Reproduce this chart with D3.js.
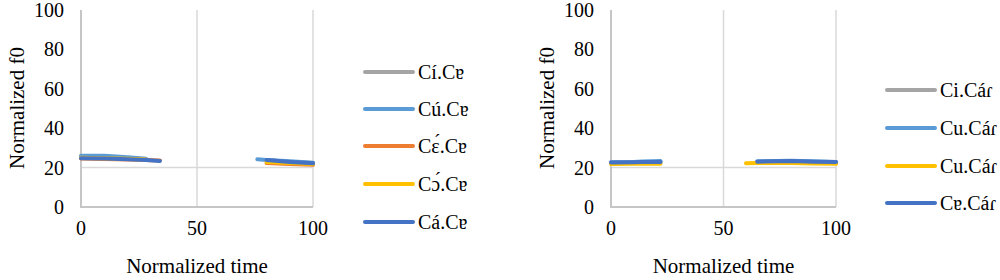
<!DOCTYPE html>
<html>
<head>
<meta charset="utf-8">
<script src="https://d3js.org/d3.v7.min.js"></script>
<style>
  body { margin: 0; background: #fff; }
</style>
</head>
<body>
<script>
// left panel: vowel + Cɐ
const timeA = [0, 10, 20, 28, 34, 55, 76, 80, 90, 100];
const namesA = ["Cí.Cɐ", "Cú.Cɐ", "Cɛ́.Cɐ", "Cɔ́.Cɐ", "Cá.Cɐ"];
const grayA   = [25.3, 25.3, 24.8, 24.3, null, null, null, 23.8, 22.8, 22.3];
const lblueA  = [26.0, 26.0, 25.2, 24.5, null, null, 24.2, 23.9, 23.2, 22.5];
const orangeA = [24.6, 24.4, 24.1, 23.9, 23.6, null, null, 22.3, 21.8, 21.4];
const yellowA = [25.0, 24.8, 24.5, 24.1, null, null, null, 22.8, 22.3, 21.8];
const dblueA  = [24.8, 24.6, 24.3, 23.8, 23.4, null, null, 23.8, 22.9, 22.2];

// right panel: vowel + Cáɾ
const timeB = [0, 10, 14, 22, 40, 60, 65, 80, 90, 100];
const namesB = ["Ci.Cáɾ", "Cu.Cáɾ", "Cu.Cáɾ", "Cɐ.Cáɾ"];
const grayB   = [22.5, 22.6, 22.7, 22.8, null, null, 23.0, 23.1, 22.9, 22.6];
const lblueB  = [22.7, 22.8, 23.1, 23.3, null, null, 23.2, 23.5, 23.2, 22.9];
const yellowB = [21.8, 21.9, 22.0, 22.0, null, 22.2, 22.3, 22.3, 22.1, 21.9];
const dblueB  = [22.6, 22.7, 22.8, 22.9, null, null, 23.0, 23.3, 23.0, 22.8];

const yTicks = [0, 20, 40, 60, 80, 100];
const xTicks = [0, 50, 100];

const colors = {gray: "#a5a5a5", lblue: "#5b9bd5", orange: "#ed7d31", yellow: "#ffc000", dblue: "#4472c4"};

const panels = [
  { x0: 81, x1: 313, time: timeA, names: namesA,
    series: [grayA, lblueA, orangeA, yellowA, dblueA],
    cols: [colors.gray, colors.lblue, colors.orange, colors.yellow, colors.dblue],
    legX: 365, legY: [72, 109, 146, 184, 222] },
  { x0: 611, x1: 836, time: timeB, names: namesB,
    series: [grayB, lblueB, yellowB, dblueB],
    cols: [colors.gray, colors.lblue, colors.yellow, colors.dblue],
    legX: 887, legY: [90, 128, 166, 203] }
];

const svg = d3.select("body").append("svg")
  .attr("width", 1000)
  .attr("height", 280)
  .attr("font-family", "'Liberation Serif', 'DejaVu Serif', serif");

const y = d3.scaleLinear().domain([0, 100]).range([207, 10]);

panels.forEach(p => {
  const x = d3.scaleLinear().domain([0, 100]).range([p.x0, p.x1]);
  const g = svg.append("g");

  // gridlines
  g.selectAll("line.vg").data(xTicks.slice(1)).join("line")
    .attr("x1", d => x(d)).attr("x2", d => x(d))
    .attr("y1", y(100)).attr("y2", y(0))
    .attr("stroke", "#d9d9d9").attr("stroke-width", 1.5);
  g.selectAll("line.hg").data([20]).join("line")
    .attr("x1", x(0)).attr("x2", x(100))
    .attr("y1", d => y(d)).attr("y2", d => y(d))
    .attr("stroke", "#d9d9d9").attr("stroke-width", 1.5);

  // axis lines
  g.append("path")
    .attr("d", `M${x(0)},${y(100)}V${y(0)}H${x(100)}`)
    .attr("fill", "none").attr("stroke", "#c6c6c6").attr("stroke-width", 2);

  // tick labels
  g.selectAll("text.yt").data(yTicks).join("text")
    .attr("x", x(0) - 17).attr("y", d => y(d) + 7)
    .attr("text-anchor", "end").attr("font-size", 20)
    .text(d => d);
  g.selectAll("text.xt").data(xTicks).join("text")
    .attr("x", d => x(d)).attr("y", 235)
    .attr("text-anchor", "middle").attr("font-size", 20)
    .text(d => d);

  // axis titles
  g.append("text")
    .attr("x", (x(0) + x(100)) / 2).attr("y", 273)
    .attr("text-anchor", "middle").attr("font-size", 21)
    .text("Normalized time");
  g.append("text")
    .attr("transform", `translate(${x(0) - 57},108) rotate(-90)`)
    .attr("text-anchor", "middle").attr("font-size", 21)
    .text("Normalized f0");

  // series
  const line = d3.line()
    .defined(d => d[1] != null)
    .x(d => x(d[0])).y(d => y(d[1]));
  p.series.forEach((s, i) => {
    g.append("path")
      .datum(p.time.map((t, j) => [t, s[j]]))
      .attr("d", line)
      .attr("fill", "none")
      .attr("stroke", p.cols[i])
      .attr("stroke-width", 4)
      .attr("stroke-linecap", "round");
  });

  // legend
  p.names.forEach((n, i) => {
    g.append("line")
      .attr("x1", p.legX).attr("x2", p.legX + 48)
      .attr("y1", p.legY[i]).attr("y2", p.legY[i])
      .attr("stroke", p.cols[i]).attr("stroke-width", 4)
      .attr("stroke-linecap", "round");
    g.append("text")
      .attr("x", p.legX + 53).attr("y", p.legY[i] + 7)
      .attr("font-size", 20)
      .text(n);
  });
});
</script>
</body>
</html>
